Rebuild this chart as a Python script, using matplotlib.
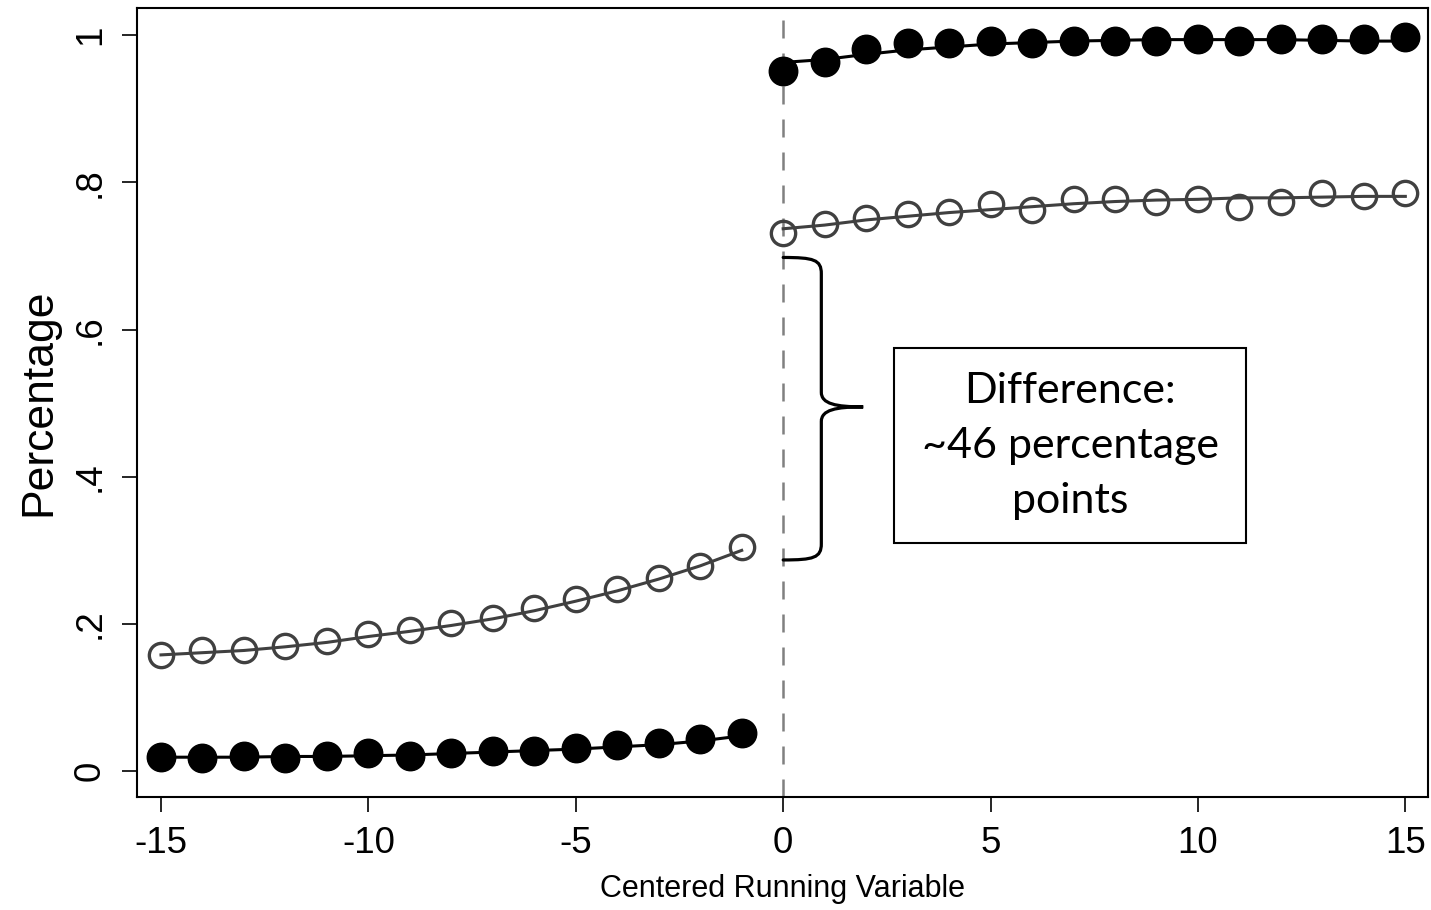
''' RD plot: share treated on each side of the cutoff. '''

import numpy as np
import matplotlib
matplotlib.use("Agg")
import matplotlib.pyplot as plt
from matplotlib.patches import Rectangle, PathPatch
from matplotlib.path import Path

# running variable (bins)
x_left = list(range(-15, 0))
x_right = list(range(0, 16))

# filled markers (black)
filled_left = [0.019, 0.018, 0.020, 0.018, 0.020, 0.025, 0.020, 0.025, 0.028,
               0.028, 0.032, 0.035, 0.038, 0.044, 0.052]
filled_right = [0.951, 0.963, 0.981, 0.990, 0.990, 0.992, 0.990, 0.992, 0.992,
                0.992, 0.995, 0.992, 0.995, 0.995, 0.995, 0.997]
filled_fit_left = [0.019, 0.019, 0.019, 0.020, 0.020, 0.021, 0.022, 0.024, 0.026,
                   0.028, 0.030, 0.033, 0.036, 0.041, 0.048]
filled_fit_right = [0.963, 0.967, 0.974, 0.980, 0.984, 0.988, 0.990, 0.992, 0.993,
                    0.994, 0.994, 0.994, 0.994, 0.993, 0.992, 0.992]

# hollow markers (gray)
hollow_left = [0.158, 0.164, 0.164, 0.170, 0.177, 0.186, 0.192, 0.201, 0.208,
               0.222, 0.234, 0.247, 0.263, 0.279, 0.305]
hollow_right = [0.731, 0.743, 0.752, 0.757, 0.760, 0.770, 0.762, 0.777, 0.777,
                0.774, 0.777, 0.767, 0.774, 0.786, 0.781, 0.786]
hollow_fit_left = [0.158, 0.161, 0.164, 0.169, 0.175, 0.183, 0.190, 0.198, 0.207,
                   0.218, 0.231, 0.245, 0.261, 0.279, 0.300]
hollow_fit_right = [0.737, 0.742, 0.749, 0.754, 0.759, 0.763, 0.767, 0.771, 0.774,
                    0.776, 0.777, 0.779, 0.779, 0.780, 0.781, 0.781]

x_ticks = [-15, -10, -5, 0, 5, 10, 15]
y_ticks = [0, 0.2, 0.4, 0.6, 0.8, 1.0]
y_ticklabels = ["0", ".2", ".4", ".6", ".8", "1"]

note_text = "Difference:\n~46 percentage\npoints"

GRAY = "#404040"

plt.rcParams['font.family'] = ['Liberation Sans', 'DejaVu Sans']

fig = plt.figure(figsize=(14.31, 9.10), dpi=100)
ax = fig.add_axes([0.0957, 0.124, 0.9023, 0.867])

ax.axvline(0, color="#808080", lw=1.8, ls=(0, (7.2, 6)), zorder=1)

for xs, fit in ((x_left, hollow_fit_left), (x_right, hollow_fit_right)):
    ax.plot(xs, fit, color=GRAY, lw=2.2, zorder=2)
for xs, pts in ((x_left, hollow_left), (x_right, hollow_right)):
    ax.plot(xs, pts, "o", ms=17.5, mfc="none", mec=GRAY, mew=2.4, zorder=3)

for xs, fit in ((x_left, filled_fit_left), (x_right, filled_fit_right)):
    ax.plot(xs, fit, color="black", lw=2.2, zorder=2)
for xs, pts in ((x_left, filled_left), (x_right, filled_right)):
    ax.plot(xs, pts, "o", ms=20.5, mfc="black", mec="black", mew=1, zorder=4)

# curly brace next to the cutoff
bx0, bx1, bx2 = 0.0, 0.92, 1.93
by_top, by_mid, by_bot = 0.698, 0.495, 0.287
half_top = [(bx0, by_top), (bx1 * 0.8, by_top), (bx1, by_top - 0.003), (bx1, by_top - 0.022),
            (bx1, by_mid + 0.02), (bx1, by_mid + 0.004), (bx1 + 0.35, by_mid), (bx2, by_mid)]
half_bot = [(bx2, by_mid), (bx1 + 0.35, by_mid), (bx1, by_mid - 0.004), (bx1, by_mid - 0.02),
            (bx1, by_bot + 0.022), (bx1, by_bot + 0.003), (bx1 * 0.8, by_bot), (bx0, by_bot)]
half_codes = [Path.MOVETO, Path.CURVE4, Path.CURVE4, Path.CURVE4,
              Path.LINETO, Path.CURVE4, Path.CURVE4, Path.CURVE4]
ax.add_patch(PathPatch(Path(half_top + half_bot[1:], half_codes + half_codes[1:]),
                       fc="none", ec="black", lw=2.3, zorder=5, capstyle="round"))

# text box
ax.add_patch(Rectangle((2.68, 0.31), 8.48, 0.265, fc="white", ec="black", lw=1.5, zorder=5))
ax.text(6.92, 0.442, note_text, ha="center", va="center", fontsize=31,
        family=["Lato", "DejaVu Sans"], linespacing=1.55, zorder=6)

ax.set_xlim(-15.58, 15.55)
ax.set_ylim(-0.0353, 1.0367)
ax.set_xticks(x_ticks)
ax.set_xticklabels([str(t) for t in x_ticks])
ax.set_yticks(y_ticks)
ax.set_yticklabels(y_ticklabels, rotation=90, va="center")
ax.tick_params(axis="both", direction="out", length=11, width=1.2, labelsize=26.5, pad=10)

for sp in ax.spines.values():
    sp.set_linewidth(1.5)

ax.set_xlabel("Centered Running Variable", fontsize=22, labelpad=9)
ax.set_ylabel("Percentage", fontsize=32, labelpad=10)

fig.savefig("out.png", dpi=100)
